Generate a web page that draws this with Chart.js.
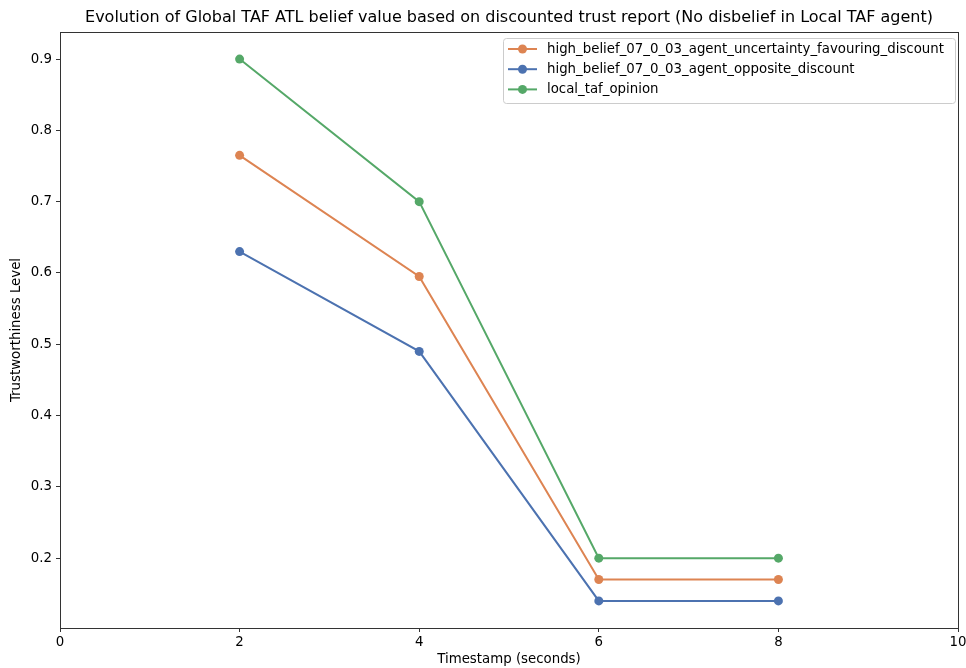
<!DOCTYPE html>
<html><head><meta charset="utf-8">
<script src="https://cdn.jsdelivr.net/npm/chart.js@4/dist/chart.umd.min.js"></script>
<style>html,body{margin:0;padding:0;background:#fff}#wrap{width:966px;height:668px;position:relative}</style>
</head><body><div id="wrap"><canvas id="c" width="966" height="668"></canvas></div>
<script>
const timestamps = [2, 4, 6, 8];
const uncertaintyFavouring = [0.765, 0.595, 0.17, 0.17];
const oppositeDiscount = [0.63, 0.49, 0.14, 0.14];
const localTafOpinion = [0.9, 0.7, 0.2, 0.2];
const seriesNames = ['high_belief_07_0_03_agent_uncertainty_favouring_discount','high_belief_07_0_03_agent_opposite_discount','local_taf_opinion'];
const seriesColors = ['#DD8452', '#4C72B0', '#55A868'];
const xTicks = [0, 2, 4, 6, 8, 10];
const yTicks = [0.2, 0.3, 0.4, 0.5, 0.6, 0.7, 0.8, 0.9];
const titleText = 'Evolution of Global TAF ATL belief value based on discounted trust report (No disbelief in Local TAF agent)';
const FONT = 'DejaVu Sans';
const FS = 13.33;

function mk(name, vals, color){
  return {label:name, data: timestamps.map((t,i)=>({x:t,y:vals[i]})), borderColor:color, backgroundColor:color,
    pointBackgroundColor:color, pointBorderColor:color, pointBorderWidth:0, pointRadius:4.5, pointHoverRadius:4.5, borderWidth:2, tension:0};
}

const frame = {
  id:'frame',
  afterDraw(chart){
    const {ctx, chartArea:a} = chart;
    ctx.save();
    ctx.strokeStyle='#333'; ctx.lineWidth=1;
    ctx.strokeRect(Math.round(a.left)+0.5, Math.round(a.top)+0.5, Math.round(a.right-a.left), Math.round(a.bottom-a.top));
    // title
    ctx.fillStyle='#000'; ctx.font='16px "'+FONT+'"'; ctx.textAlign='center'; ctx.textBaseline='middle';
    ctx.fillText(titleText, (a.left+a.right)/2, 18);
    // legend
    ctx.font = FS+'px "'+FONT+'"';
    const x0=503, y0=38, w=452, h=65;
    ctx.fillStyle='rgba(255,255,255,0.8)'; ctx.strokeStyle='#cccccc';
    ctx.beginPath(); ctx.roundRect(x0+0.5,y0+0.5,w,h,3); ctx.fill(); ctx.stroke();
    chart.data.datasets.forEach((ds,i)=>{
      const y = 49 + i*20.2;
      ctx.strokeStyle=ds.borderColor; ctx.lineWidth=2;
      ctx.beginPath(); ctx.moveTo(508,y); ctx.lineTo(537,y); ctx.stroke();
      ctx.fillStyle=ds.borderColor; ctx.beginPath(); ctx.arc(522.5,y,4.5,0,Math.PI*2); ctx.fill();
      ctx.fillStyle='#000'; ctx.textAlign='left'; ctx.textBaseline='middle';
      ctx.fillText(ds.label, 547, y+0.5);
    });
    ctx.restore();
  }
};

new Chart(document.getElementById('c'), {
  type:'line',
  data:{datasets:[mk(seriesNames[0],uncertaintyFavouring,seriesColors[0]), mk(seriesNames[1],oppositeDiscount,seriesColors[1]), mk(seriesNames[2],localTafOpinion,seriesColors[2])]},
  options:{
    responsive:false, animation:false, devicePixelRatio:1,
    layout:{padding:{top:32,right:8,left:0,bottom:0}},
    plugins:{legend:{display:false}, title:{display:false}, tooltip:{enabled:false}},
    scales:{
      x:{type:'linear', min:0, max:10,
        afterBuildTicks(s){ s.ticks = xTicks.map(v=>({value:v})); },
        afterFit(s){ s.height = 40; s.paddingLeft = 0; s.paddingRight = 0; },
        grid:{drawOnChartArea:false, drawTicks:true, tickLength:4, color:'#333'},
        border:{display:true,color:'#333'},
        ticks:{color:'#000', padding:3, font:{family:FONT,size:FS}, maxRotation:0},
        title:{display:true, text:'Timestamp (seconds)', color:'#000', font:{family:FONT,size:FS}, padding:{top:0,bottom:0}}
      },
      y:{type:'linear', min:0.102, max:0.938,
        afterBuildTicks(s){ s.ticks = yTicks.map(v=>({value:v})); },
        afterFit(s){ s.width = 60; s.paddingTop = 0; s.paddingBottom = 0; },
        grid:{drawOnChartArea:false, drawTicks:true, tickLength:4, color:'#333'},
        border:{display:true,color:'#333'},
        ticks:{color:'#000', padding:4, font:{family:FONT,size:FS}, callback:v=>v.toFixed(1)},
        title:{display:true, text:'Trustworthiness Level', color:'#000', font:{family:FONT,size:FS}, padding:{top:9,bottom:0}}
      }
    }
  },
  plugins:[frame]
});
</script></body></html>
